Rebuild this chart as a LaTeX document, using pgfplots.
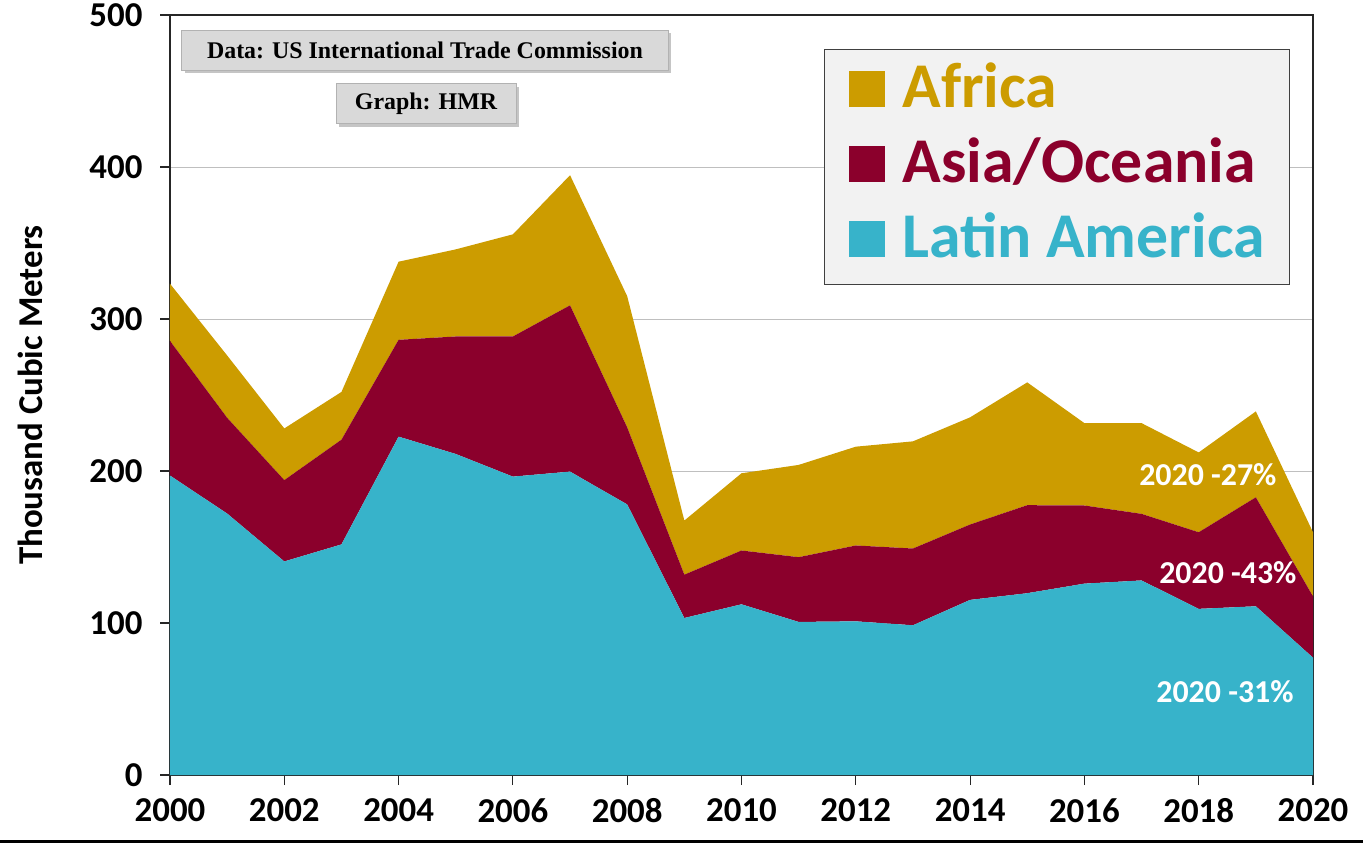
\documentclass[border=0pt]{standalone}
\usepackage{fontspec}
\setmainfont{Carlito}
\newfontfamily\timesfont{Liberation Serif}
\usepackage{pgfplots}
\usepackage{pgfplotstable}
\pgfplotsset{compat=1.18}
\usetikzlibrary{shadows}
\definecolor{latin}{HTML}{37B3CA}
\definecolor{asia}{HTML}{8B002C}
\definecolor{africa}{HTML}{CC9C00}
\pgfplotstableread{
year latin asia africa
2000 197.0 88.6 37.6
2001 172.0 63.0 41.0
2002 140.5 53.5 34.0
2003 151.7 68.9 31.4
2004 222.6 63.7 51.4
2005 211.2 77.3 57.3
2006 196.3 92.2 67.2
2007 199.6 109.4 85.6
2008 178.0 50.7 86.3
2009 103.3 28.5 35.6
2010 112.3 35.4 50.8
2011 100.7 42.6 60.7
2012 101.1 49.9 65.0
2013 98.5 50.5 70.5
2014 115.2 49.6 70.5
2015 119.6 57.9 80.8
2016 125.9 51.4 54.2
2017 128.0 43.8 59.7
2018 109.3 50.4 52.5
2019 111.0 71.7 56.5
2020 77.2 40.3 42.2
}\datatable
\begin{document}
\begin{tikzpicture}
\useasboundingbox (-170bp,-68bp) rectangle (1193bp,775bp);
\begin{axis}[at={(0,0)}, anchor=south west, scale only axis,
 width=1143bp, height=760bp,
 xmin=2000, xmax=2020, ymin=0, ymax=500,
 xtick={2000,2002,...,2020}, ytick={0,100,...,500},
 stack plots=y,
 ymajorgrids, grid style={draw=black!25, line width=0.8bp},
 axis line style={black!85, line width=1.2bp},
 tick style={black!85, line width=1.2bp}, tick align=outside, major tick length=10bp,
 tick pos=left,
 /pgf/number format/assume math mode=true,
 /pgf/number format/1000 sep={},
 ticklabel style={font=\fontsize{35}{35}\selectfont\bfseries},
 yticklabel style={xshift=-14bp},
 xticklabel style={yshift=-10bp},
 ylabel={Thousand Cubic Meters},
 ylabel style={at={(axis description cs:-0.1225,0.5)}, anchor=center, font=\fontsize{35}{35}\selectfont\bfseries},
 reverse legend,
 legend cell align=left,
 legend image code/.code={\fill[#1] (0bp,-15bp) rectangle (36bp,21bp);},
 legend style={at={(rel axis cs:0.5722,0.9553)}, anchor=north west,
   fill=black!5, draw=black!75, line width=1bp,
   font=\fontsize{64}{64}\selectfont\bfseries,
   inner xsep=24bp, inner ysep=8bp, row sep=6bp, column sep=18bp,
   nodes={inner xsep=0bp, inner ysep=4bp, text depth=15bp, text height=46bp}},
]
\addplot[fill=latin, draw=none] table[x=year, y=latin] {\datatable} \closedcycle;
\addlegendentry{\textcolor{latin}{Latin America}}
\addplot[fill=asia, draw=none] table[x=year, y=asia] {\datatable} \closedcycle;
\addlegendentry{\textcolor{asia}{Asia/Oceania}}
\addplot[fill=africa, draw=none] table[x=year, y=africa] {\datatable} \closedcycle;
\addlegendentry{\textcolor{africa}{Africa}}
\coordinate (p27) at (axis cs:2018.16,197.4);
\coordinate (p43) at (axis cs:2018.51,132.9);
\coordinate (p31) at (axis cs:2018.46,54.6);
\node[fill=black!15, draw=black!30, line width=1bp, drop shadow={shadow xshift=3bp, shadow yshift=-3bp, fill=black!45},
  minimum width=486bp, minimum height=40bp, inner sep=0pt, font=\timesfont\fontsize{24}{24}\selectfont\bfseries]
  at (rel axis cs:0.2231,0.9539) {Data: US International Trade Commission};
\node[fill=black!15, draw=black!30, line width=1bp, drop shadow={shadow xshift=3bp, shadow yshift=-3bp, fill=black!45},
  minimum width=180bp, minimum height=40bp, inner sep=0pt, font=\timesfont\fontsize{24}{24}\selectfont\bfseries]
  at (rel axis cs:0.2240,0.8829) {Graph: HMR};
\end{axis}
\node[text=white, font=\fontsize{32}{32}\selectfont\bfseries] at (p27) {2020 -27\%};
\node[text=white, font=\fontsize{32}{32}\selectfont\bfseries] at (p43) {2020 -43\%};
\node[text=white, font=\fontsize{32}{32}\selectfont\bfseries] at (p31) {2020 -31\%};
\draw[line width=3bp, black] (-170bp,-66.5bp) -- (1193bp,-66.5bp);
\end{tikzpicture}
\end{document}
